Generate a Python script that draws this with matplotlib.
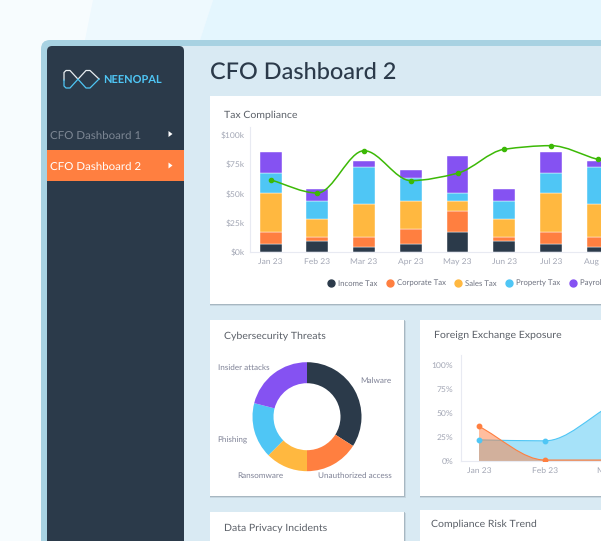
import matplotlib
matplotlib.use("Agg")
from matplotlib import pyplot as plt
from matplotlib.patches import Rectangle, FancyBboxPatch, Polygon, PathPatch
from matplotlib.path import Path
from matplotlib.lines import Line2D
from matplotlib.transforms import ScaledTranslation

plt.rcParams['font.family'] = ['Lato', 'DejaVu Sans']
plt.rcParams['text.hinting'] = 'no_hinting'

W, H = 601, 541

# tax compliance
months = ['Jan 23', 'Feb 23', 'Mar 23', 'Apr 23', 'May 23', 'Jun 23', 'Jul 23', 'Aug 23']
income_tax = [6.5, 9.4, 4.3, 6.5, 17.1, 9.4, 6.5, 4.3]
corporate_tax = [11, 3.7, 8.8, 13.4, 17.7, 3.7, 11, 8.8]
sales_tax = [33, 15.4, 28.2, 23.7, 8.8, 15.4, 33, 28.2]
property_tax = [17.4, 15.1, 31.6, 20, 6.8, 15.1, 17.4, 31.6]
payroll_tax = [17.4, 10, 4.6, 6.8, 31.6, 10, 17.4, 4.6]
compliance_line = [61.6, 50.4, 86.6, 61, 67.3, 87.8, 90.9, 79.2, 70]
tax_names = ['Income Tax', 'Corporate Tax', 'Sales Tax', 'Property Tax', 'Payroll Tax']
tax_ticks = [0, 25, 50, 75, 100]
tax_tick_labels = ['$0k', '$25k', '$50k', '$75k', '$100k']

# cybersecurity
threats = ['Malware', 'Unauthorized access', 'Ransomware', 'Phishing', 'Insider attacks']
threat_values = [34, 16, 12.5, 16.5, 21]

# foreign exchange
fx_months = ['Jan 23', 'Feb 23', 'Mar 23']
fx_blue = [22, 21, 58]
fx_orange = [36, 1, 1]
fx_ticks = [0, 25, 50, 75, 100]
fx_tick_labels = ['0%', '25%', '50%', '75%', '100%']

NAVY = '#2b3a4a'
ORANGE = '#ff7f40'
YELLOW = '#ffb840'
BLUE = '#4fc6f5'
PURPLE = '#8552f2'
GREEN = '#3cb906'
TITLE = '#5b6068'
TICK = '#a3a7b5'
LABEL = '#7f8296'
colors = [NAVY, ORANGE, YELLOW, BLUE, PURPLE]


# monotone cubic through the points, as bezier segments
def smooth_path(xs, ys):
  n = len(xs)
  slopes = [(ys[i + 1] - ys[i]) / (xs[i + 1] - xs[i]) for i in range(n - 1)]
  tang = [slopes[0]]
  for i in range(1, n - 1):
    a, b = slopes[i - 1], slopes[i]
    tang.append(0 if a * b <= 0 else 2 * a * b / (a + b))
  tang.append(slopes[-1])
  verts = [(xs[0], ys[0])]
  for i in range(n - 1):
    d = (xs[i + 1] - xs[i]) / 3
    verts.append((xs[i] + d, ys[i] + tang[i] * d))
    verts.append((xs[i + 1] - d, ys[i + 1] - tang[i + 1] * d))
    verts.append((xs[i + 1], ys[i + 1]))
  codes = [Path.MOVETO] + [Path.CURVE4] * (len(verts) - 1)
  return verts, codes


def area_path(xs, ys):
  verts, codes = smooth_path(xs, ys)
  verts = verts + [(xs[-1], 0), (xs[0], 0), (xs[0], ys[0])]
  codes = codes + [Path.LINETO, Path.LINETO, Path.CLOSEPOLY]
  return Path(verts, codes)


def px_axes(x0, y0, x1, y1):
  ax = fig.add_axes([x0 / W, 1 - y1 / H, (x1 - x0) / W, (y1 - y0) / H])
  ax.patch.set_alpha(0)
  return ax


def card(x0, y0, x1, y1):
  bg.add_patch(Rectangle((x0 - 0.5, y0 + 0.5), x1 - x0 + 2, y1 - y0 + 1.5, fc='#8f9ea8', alpha=0.25, ec='none', zorder=3))
  bg.add_patch(Rectangle((x0, y0), x1 - x0 + 0.5, y1 - y0 + 1, fc='#8f9ea8', alpha=0.55, ec='none', zorder=3))
  bg.add_patch(Rectangle((x0, y0), x1 - x0, y1 - y0, fc='white', ec='none', zorder=4))


def style_axis(ax):
  for s in ['top', 'right']:
    ax.spines[s].set_visible(False)
  for s in ['left', 'bottom']:
    ax.spines[s].set_color('#e8eaf2')
    ax.spines[s].set_linewidth(0.8)
  ax.tick_params(length=0, labelsize=6.1, labelcolor=TICK)
  # labels sit a little above their tick
  shift = ScaledTranslation(0, 2 / 100, fig.dpi_scale_trans)
  for lab in ax.get_yticklabels():
    lab.set_transform(lab.get_transform() + shift)


fig = plt.figure(figsize=(W / 100, H / 100), dpi=100, facecolor='#f7fcfe')
bg = fig.add_axes([0, 0, 1, 1])
bg.set_xlim(0, W)
bg.set_ylim(H, 0)
bg.axis('off')

# page background shapes
bg.add_patch(Polygon([(93, 0), (213, 0), (200, 40), (85, 40)], fc='#eef9fe', ec='none'))
bg.add_patch(Polygon([(213, 0), (601, 0), (601, 40), (200, 40)], fc='#e4f6fe', ec='none'))

# window frame, content and sidebar
bg.add_patch(FancyBboxPatch((41, 40), 700, 700, boxstyle='round,pad=0,rounding_size=9', fc='#a8d2e2', ec='none', zorder=1))
bg.add_patch(FancyBboxPatch((47, 46), 700, 700, boxstyle='round,pad=0,rounding_size=5', fc='#d9eaf3', ec='none', zorder=2))
bg.add_patch(FancyBboxPatch((47, 46), 137, 700, boxstyle='round,pad=0,rounding_size=5', fc=NAVY, ec='none', zorder=2))
bg.add_patch(Rectangle((47, 149.5), 137, 31.5, fc=ORANGE, ec='none', zorder=3))

# logo
LOGO_W = '#e8edf1'
bg.plot([64, 64, 66, 70, 78], [80, 72.5, 70.5, 70.5, 79.2], color=LOGO_W, lw=0.9, zorder=3)
bg.plot([99, 90, 86, 78], [79, 70.5, 70.5, 79.2], color=LOGO_W, lw=0.9, zorder=3)
bg.plot([78, 86, 90, 99], [79.2, 88, 88, 79], color=BLUE, lw=0.9, zorder=3)
bg.plot([78, 70, 66, 64, 64], [79.2, 88, 88, 86, 80], color=BLUE, lw=0.9, zorder=3)
bg.text(103.5, 79.5, 'NEENOPAL', color=BLUE, fontsize=7.9, fontweight='bold', va='center', zorder=5)

# menu
bg.text(50, 135.5, 'CFO Dashboard 1', color='#7d8794', fontsize=8.25, va='center', zorder=5)
bg.text(50, 166.5, 'CFO Dashboard 2', color='white', fontsize=8.25, va='center', zorder=5)
for y in [134, 165.5]:
  bg.add_patch(Polygon([(168.5, y - 3), (168.5, y + 3), (172.5, y)], fc='white', ec='none', zorder=5))

bg.text(210, 73, 'CFO Dashboard 2', color=NAVY, fontsize=16.9, fontweight='medium', va='center', zorder=5)

card(210, 96, 620, 304)
card(210, 320, 404, 496)
card(420, 320, 620, 496)
card(210, 512, 404, 560)
card(420, 510, 620, 560)

bg.text(224, 115, 'Tax Compliance', color=TITLE, fontsize=7.55, va='center', zorder=5)
bg.text(224, 336, 'Cybersecurity Threats', color=TITLE, fontsize=7.55, va='center', zorder=5)
bg.text(434.5, 335.5, 'Foreign Exchange Exposure', color=TITLE, fontsize=7.55, va='center', zorder=5)
bg.text(224, 528, 'Data Privacy Incidents', color=TITLE, fontsize=7.55, va='center', zorder=5)
bg.text(431, 524.5, 'Compliance Risk Trend', color=TITLE, fontsize=7.55, va='center', zorder=5)

# tax chart
ax = px_axes(250, 127, 601, 252)
pos = list(range(len(months)))
bottom = [0] * len(months)
for name, vals, col in zip(tax_names, [income_tax, corporate_tax, sales_tax, property_tax, payroll_tax], colors):
  ax.bar(pos, vals, 0.47, bottom=bottom, color=col, edgecolor='#ffffff', linewidth=0.3, label=name)
  bottom = [b + v for b, v in zip(bottom, vals)]
line_x = list(range(len(compliance_line)))
verts, codes = smooth_path(line_x, compliance_line)
ax.add_patch(PathPatch(Path(verts, codes), fc='none', ec=GREEN, lw=1.1, zorder=4))
ax.plot(line_x, compliance_line, 'o', color=GREEN, ms=3, zorder=5)
ax.set_xticks(pos)
ax.set_xticklabels(months)
ax.set_yticks(tax_ticks)
ax.set_yticklabels(tax_tick_labels)
ax.set_xlim((250 - 270.7) / 46.7, (601 - 270.7) / 46.7)
ax.set_ylim(0, 125 / 1.17)
style_axis(ax)
ax.tick_params(axis='x', pad=4.5)
ax.tick_params(axis='y', pad=4)

handles = [Line2D([], [], marker='o', ls='', color=c, ms=5) for c in colors]
ax.legend(handles, tax_names, ncols=5, loc='center left', bbox_to_anchor=(0.221, -0.25), frameon=False,
  fontsize=5.55, labelcolor='#6e7280', handlelength=0.9, handletextpad=0.45, columnspacing=1.17, borderpad=0, borderaxespad=0)

# donut
ax2 = px_axes(307 - 54.5, 416.7 - 54.5, 307 + 54.5, 416.7 + 54.5)
ax2.pie(threat_values, colors=colors, startangle=90, counterclock=False, radius=1,
  wedgeprops={'width': 21 / 54.5, 'linewidth': 0})
ax2.set_xlim(-1, 1)
ax2.set_ylim(-1, 1)
label_pos = [(376, 381), (355, 476), (260, 476), (232, 440), (244, 368)]
for name, (x, y) in zip(threats, label_pos):
  bg.text(x, y, name, color=LABEL, fontsize=5.9, ha='center', va='center', zorder=5)

# fx chart
ax3 = px_axes(460.7, 355, 601, 461)
fx_x = list(range(len(fx_months)))
verts, codes = smooth_path(fx_x, fx_blue)
ax3.add_patch(PathPatch(area_path(fx_x, fx_blue), fc=BLUE, ec='none', alpha=0.5))
ax3.add_patch(PathPatch(Path(verts, codes), fc='none', ec=BLUE, lw=0.8))
verts, codes = smooth_path(fx_x, fx_orange)
ax3.add_patch(PathPatch(area_path(fx_x, fx_orange), fc=ORANGE, ec='none', alpha=0.5))
ax3.add_patch(PathPatch(Path(verts, codes), fc='none', ec=ORANGE, lw=0.8))
ax3.plot(fx_x, fx_blue, 'o', color=BLUE, ms=3.2, zorder=5)
ax3.plot(fx_x, fx_orange, 'o', color=ORANGE, ms=3.2, zorder=5)
ax3.set_xticks(fx_x[:2])
ax3.set_xticklabels(fx_months[:2])
ax3.set_yticks(fx_ticks)
ax3.set_yticklabels(fx_tick_labels)
ax3.set_xlim((460.7 - 479) / 66, (601 - 479) / 66)
ax3.set_ylim(0, 106 / 0.96)
style_axis(ax3)
ax3.tick_params(axis='x', pad=4)
ax3.tick_params(axis='y', pad=5.5)
# third month label runs off the picture, ticks outside the limits are not drawn
ax3.text(fx_x[2], -0.09, fx_months[2], transform=ax3.get_xaxis_transform(), ha='center', va='center',
  fontsize=6.1, color=TICK, clip_on=False)

fig.savefig('out.png', dpi=100, facecolor=fig.get_facecolor())
